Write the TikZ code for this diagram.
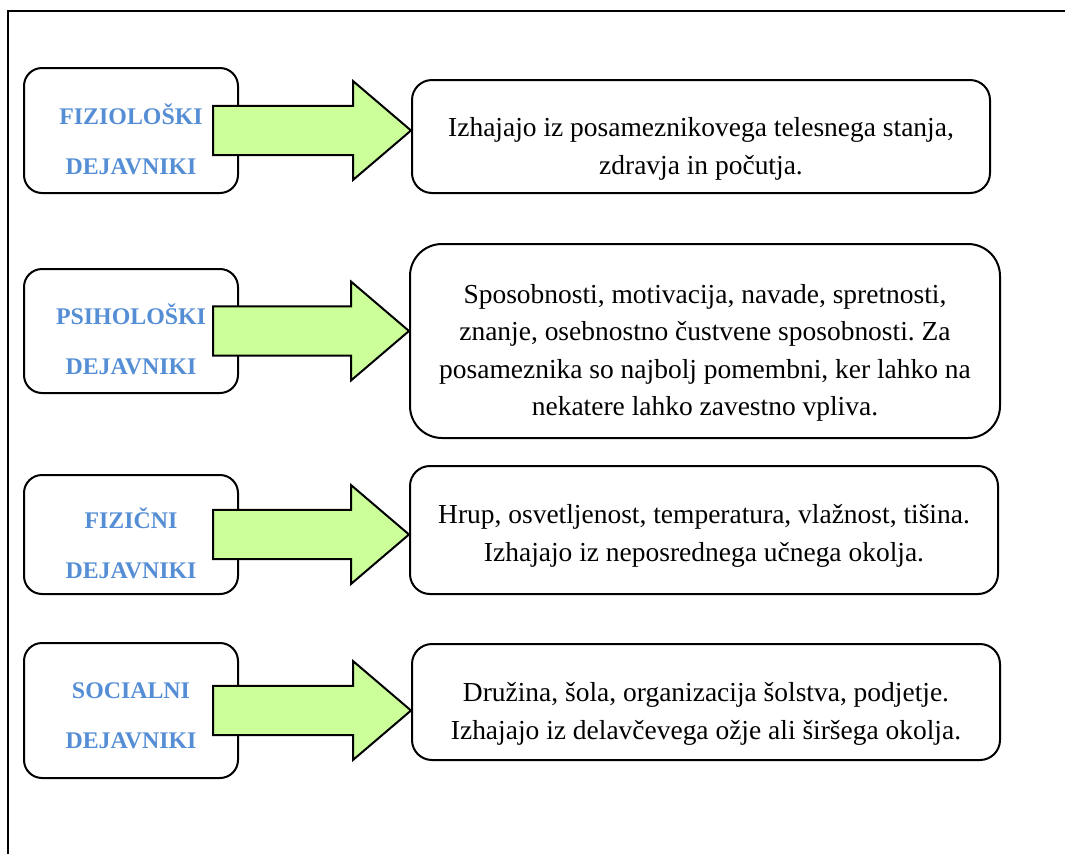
\documentclass[tikz,border=0pt]{standalone}
\usepackage{fontspec}
\setmainfont{Liberation Serif}
\usetikzlibrary{calc}
\frenchspacing
\definecolor{lblblue}{RGB}{85,142,213}
\definecolor{arrgreen}{RGB}{204,255,153}
\tikzset{
  leftbox/.style={draw=black, line width=1.5pt, rounded corners=13.5pt, fill=white,
    minimum width=160.5pt, inner sep=0pt},
  rightbox/.style={draw=black, line width=1.5pt, rounded corners=15pt, fill=white, inner sep=0pt},
  lbltext/.style={font=\fontsize{17.9pt}{37.5pt}\selectfont\bfseries, text=lblblue, align=center, inner sep=0pt},
  bodytext/.style={font=\fontsize{20.6pt}{28pt}\selectfont, align=center, inner sep=0pt},
  bigarrow/.style={draw=black, line width=1.5pt, fill=arrgreen, line join=miter}
}
\newcommand{\fatarrow}[2]{%
  \draw[bigarrow] let \p1=(#1.east), \p2=(#2.west), \p3=(#1.center) in
    (\x1-19.5pt,\y3+18.4pt) -- (\x2-43.5pt,\y3+18.4pt) -- (\x2-43.5pt,\y3+37.1pt)
    -- (\x2,\y3) -- (\x2-43.5pt,\y3-37.1pt) -- (\x2-43.5pt,\y3-18.4pt)
    -- (\x1-19.5pt,\y3-18.4pt) -- cycle;}
\begin{document}
\begin{tikzpicture}[x=0.75pt,y=-0.75pt]
\useasboundingbox (0,0) rectangle (1065,854);
% frame
\draw[line width=1.5pt] (8,854) -- (8,10.5) -- (1066,10.5);

% row 1
\node[leftbox, minimum height=93.75pt] (L1) at (131,130.5) {};
\node[rightbox, minimum width=433.5pt, minimum height=84.75pt] (R1) at (701,136.5) {};
\fatarrow{L1}{R1}
\node[lbltext] (T1) at (131,139) {FIZIOLOŠKI\\DEJAVNIKI};
\node[bodytext] (B1) at (701,149) {Izhajajo iz posameznikovega telesnega stanja,\\zdravja in počutja.};

% row 2
\node[leftbox, minimum height=93pt] (L2) at (131,331) {};
\node[rightbox, rounded corners=24pt, minimum width=442.5pt, minimum height=145.5pt] (R2) at (705,341) {};
\fatarrow{L2}{R2}
\node[lbltext] (T2) at (131,339) {PSIHOLOŠKI\\DEJAVNIKI};
\node[bodytext] (B2) at (705,353) {Sposobnosti, motivacija, navade, spretnosti,\\znanje, osebnostno čustvene sposobnosti. Za\\posameznika so najbolj pomembni, ker lahko na\\nekatere lahko zavestno vpliva.};

% row 3
\node[leftbox, minimum height=89.25pt] (L3) at (131,534.5) {};
\node[rightbox, minimum width=441pt, minimum height=96pt] (R3) at (704,530) {};
\fatarrow{L3}{R3}
\node[lbltext] (T3) at (131,543) {FIZIČNI\\DEJAVNIKI};
\node[bodytext] (B3) at (704,536) {Hrup, osvetljenost, temperatura, vlažnost, tišina.\\Izhajajo iz neposrednega učnega okolja.};

% row 4
\node[leftbox, minimum height=101.25pt] (L4) at (131,710.5) {};
\node[rightbox, minimum width=441pt, minimum height=87pt] (R4) at (706,702) {};
\fatarrow{L4}{R4}
\node[lbltext] (T4) at (131,716) {SOCIALNI\\DEJAVNIKI};
\node[bodytext] (B4) at (706,714) {Družina, šola, organizacija šolstva, podjetje.\\Izhajajo iz delavčevega ožje ali širšega okolja.};
\end{tikzpicture}
\end{document}
